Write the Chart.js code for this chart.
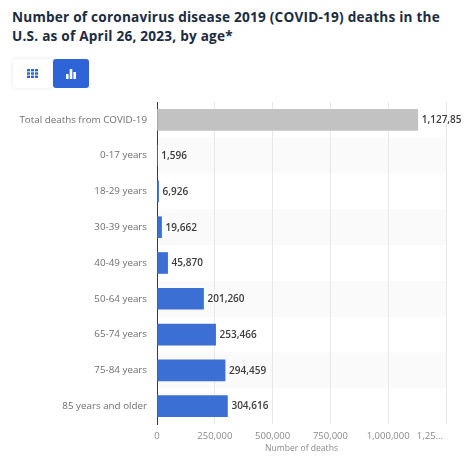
<!DOCTYPE html>
<html>
<head>
<meta charset="utf-8">
<title>COVID-19 deaths by age</title>
<script src="https://cdn.jsdelivr.net/npm/chart.js@4"></script>
<style>
  html, body { margin: 0; padding: 0; background: #fff; }
  body { width: 474px; height: 465px; position: relative; overflow: hidden; font-family: "Open Sans", sans-serif; }
  h1 { position: absolute; left: 12px; top: 7px; width: 462px; margin: 0; font-size: 13.6px; line-height: 19px; font-weight: 700; color: #1c2b3e; letter-spacing: 0.22px; white-space: nowrap; }
  .btn { position: absolute; top: 59px; height: 29px; border-radius: 3px; display: flex; align-items: center; justify-content: center; }
  #btnTable { left: 13px; width: 39px; background: #fff; box-shadow: 0 0 4px rgba(0,0,0,0.10); }
  #btnBar { left: 53px; width: 36px; background: #2f63d8; }
  canvas { position: absolute; left: 0; top: 0; }
</style>
</head>
<body>
<h1>Number of coronavirus disease 2019 (COVID-19) deaths in the<br>U.S. as of April 26, 2023, by age*</h1>
<div class="btn" id="btnTable">
  <svg width="11" height="9" viewBox="0 0 11 9" fill="#2f63d8">
    <rect x="0" y="0" width="3" height="2.4"/><rect x="4" y="0" width="3" height="2.4"/><rect x="8" y="0" width="3" height="2.4"/>
    <rect x="0" y="3.3" width="3" height="2.4"/><rect x="4" y="3.3" width="3" height="2.4"/><rect x="8" y="3.3" width="3" height="2.4"/>
    <rect x="0" y="6.6" width="3" height="2.4"/><rect x="4" y="6.6" width="3" height="2.4"/><rect x="8" y="6.6" width="3" height="2.4"/>
  </svg>
</div>
<div class="btn" id="btnBar">
  <svg width="10" height="10" viewBox="0 0 10 10" fill="#fff">
    <rect x="0" y="5" width="2.6" height="5"/><rect x="3.7" y="0" width="2.6" height="10"/><rect x="7.4" y="3" width="2.6" height="7"/>
  </svg>
</div>
<canvas id="deathsChart" width="474" height="465"></canvas>
<script>
const categories = [
  "Total deaths from COVID-19",
  "0-17 years",
  "18-29 years",
  "30-39 years",
  "40-49 years",
  "50-64 years",
  "65-74 years",
  "75-84 years",
  "85 years and older",
];
const deaths = [1127850, 1596, 6926, 19662, 45870, 201260, 253466, 294459, 304616];
const xTickLabels = ["0", "250,000", "500,000", "750,000", "1,000,000", "1,25..."];
const xAxisTitle = "Number of deaths";

const GREY = "#c2c2c2";
const BLUE = "#3b6fd4";
const LABEL_CLIP_X = 462;

// light stripes behind every other row
const rowStripes = {
  id: "rowStripes",
  beforeDraw(chart) {
    const { ctx, chartArea, scales } = chart;
    const step = scales.y.getPixelForValue(1) - scales.y.getPixelForValue(0);
    ctx.save();
    ctx.fillStyle = "#fafafa";
    categories.forEach((name, i) => {
      if (i % 2 === 0) return;
      const center = scales.y.getPixelForValue(i);
      ctx.fillRect(chartArea.left, center - step / 2, chartArea.width, step);
    });
    ctx.restore();
  },
};

// value labels at the bar ends, cut off at the right like the original
const valueLabels = {
  id: "valueLabels",
  afterDatasetsDraw(chart) {
    const { ctx } = chart;
    const bars = chart.getDatasetMeta(0).data;
    ctx.save();
    ctx.beginPath();
    ctx.rect(0, 0, LABEL_CLIP_X, chart.height);
    ctx.clip();
    ctx.font = "600 10px 'Open Sans'";
    ctx.fillStyle = "#3c3c3c";
    ctx.textBaseline = "middle";
    ctx.textAlign = "left";
    bars.forEach((bar, i) => {
      ctx.fillText(deaths[i].toLocaleString("en-US"), bar.x + 4, bar.y + 0.5);
    });
    ctx.restore();
  },
};

new Chart(document.getElementById("deathsChart"), {
  type: "bar",
  data: {
    labels: categories,
    datasets: [
      {
        data: deaths,
        backgroundColor: categories.map((name, i) => (i === 0 ? GREY : BLUE)),
        barThickness: 21,
        borderWidth: 0,
      },
    ],
  },
  options: {
    indexAxis: "y",
    responsive: false,
    animation: false,
    layout: { padding: { top: 102, right: 28, left: 0, bottom: 10 } },
    plugins: {
      legend: { display: false },
      title: { display: false },
      tooltip: { enabled: false },
    },
    scales: {
      x: {
        min: 0,
        max: 1250000,
        grid: { color: "#e8e8e8", drawTicks: false },
        border: { display: false },
        afterBuildTicks(scale) {
          scale.ticks = xTickLabels.map((label, i) => ({ value: i * 250000 }));
        },
        afterFit(scale) {
          scale.paddingRight = 0;
          scale.height = 31;
        },
        ticks: {
          autoSkip: false,
          maxRotation: 0,
          padding: 7,
          color: "#8a8a8a",
          font: { family: "'Open Sans'", size: 9.5 },
          callback: (value, i) =>
            i === xTickLabels.length - 1
              ? xTickLabels[i] + "\u00a0".repeat(13)
              : xTickLabels[i],
        },
        title: {
          display: true,
          text: xAxisTitle,
          color: "#8a8a8a",
          font: { family: "'Open Sans'", size: 8.6 },
          padding: { top: 2, bottom: 1 },
        },
      },
      y: {
        grid: { display: false, drawTicks: false },
        border: { display: true, color: "#3a3a3a", width: 1 },
        afterFit(scale) {
          scale.width = 157;
        },
        ticks: {
          autoSkip: false,
          padding: 10,
          color: "#6e6e6e",
          font: { family: "'Open Sans'", size: 9.8 },
        },
      },
    },
  },
  plugins: [rowStripes, valueLabels],
});
</script>
</body>
</html>
